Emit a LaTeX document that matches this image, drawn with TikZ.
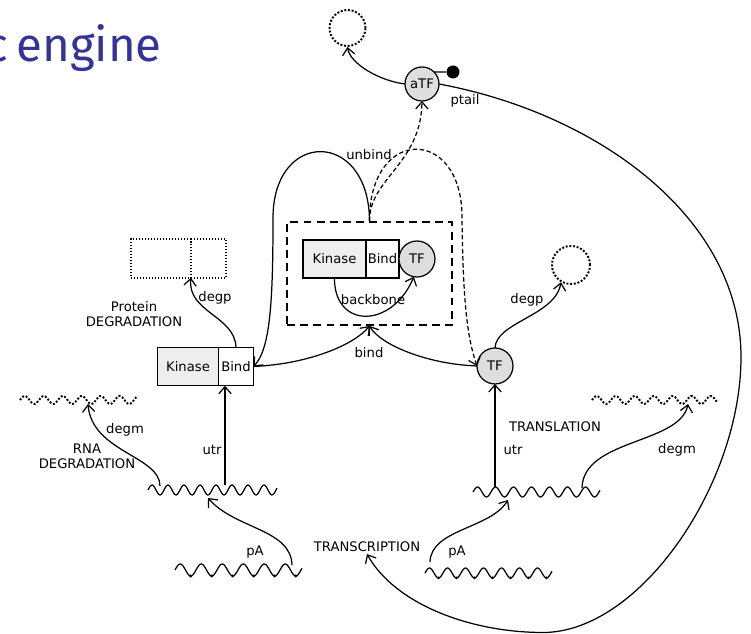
\documentclass[tikz,border=0pt]{standalone}
\usepackage{fontspec}
\setmainfont{DejaVu Sans}
\newfontfamily\titlefont{Fira Sans}
\usetikzlibrary{arrows.meta,positioning}
\definecolor{titleblue}{RGB}{51,51,153}
\definecolor{protgray}{RGB}{222,222,222}
\definecolor{kinfill}{RGB}{238,238,238}

\begin{document}
\begin{tikzpicture}[x=0.02cm, y=0.02cm,
  box/.style={draw, line width=0.7pt, minimum height=0.77cm, inner sep=0pt,
              outer sep=0pt, font=\fontsize{7.5}{8.8}\selectfont},
  kin/.style={box, fill=kinfill, minimum width=1.24cm},
  bnd/.style={box, fill=white, minimum width=0.68cm},
  prot/.style={circle, draw, line width=0.7pt, fill=protgray, minimum size=0.72cm,
               inner sep=0pt, outer sep=0pt, font=\fontsize{7.5}{8.8}\selectfont},
  gone/.style={draw, densely dotted, line width=1.1pt},
  flow/.style={-{Straight Barb[length=4pt,width=7pt]}, line width=0.7pt},
  dsh/.style={dash pattern=on 2.5pt off 1.5pt},
  lbl/.style={font=\fontsize{7.5}{8.8}\selectfont, inner sep=1pt, align=center},
  wave/.style={line width=0.7pt}
]
\useasboundingbox (0,0) rectangle (751,634);
\clip (0,0) rectangle (751,634);

%% Title (cut at the left edge)
\node[font=\titlefont\fontsize{27}{30}\selectfont, text=titleblue, anchor=base east]
  (title) at (168,572) {c\hspace{4.5pt}engine};

%% Active TF at the top
\node[prot, minimum size=0.68cm] (aTF) at (422,550) {aTF};
\node[circle, fill=black, minimum size=0.26cm, inner sep=0pt] (tail) at (453,562) {};
\node[circle, gone, minimum size=0.72cm] (deadA) at (347.5,606) {};
\node[lbl] (ptail) at (465,533) {ptail};

%% Complex (dashed box)
\node[draw, line width=1.1pt, dash pattern=on 4.5pt off 3pt,
      minimum width=3.3cm, minimum height=2.06cm] (cplx) at (369.5,360.5) {};
\node[kin, minimum width=1.26cm, minimum height=0.76cm] (cKin) at (334.5,375) {Kinase};
\node[bnd, minimum width=0.66cm, minimum height=0.76cm, right=0pt of cKin] (cBind) {Bind};
\node[prot, right=0pt of cBind] (cTF) {TF};
\node[lbl] (bb) at (373,334) {backbone};

%% Protein Kinase|Bind and its degradation
\node[kin, minimum width=1.22cm] (lKin) at (188,267.5) {Kinase};
\node[bnd, minimum width=0.7cm, right=0pt of lKin] (lBind) {Bind};
\node[box, gone, minimum width=1.2cm] (deadK) at (161,375.5) {};
\node[box, gone, minimum width=0.7cm, right=0pt of deadK] (deadB) {};
\node[lbl] (degpL) at (215,336) {degp};
\node[lbl] (protdeg) at (134,320) {Protein\\DEGRADATION};

%% TF and its degradation
\node[prot] (rTF) at (495,268) {TF};
\node[circle, gone, minimum size=0.76cm] (deadTF) at (571,369) {};
\node[lbl] (degpR) at (527,334) {degp};

%% Labels
\node[lbl] (unbind) at (369,479) {unbind};
\node[lbl] (bind) at (369,281) {bind};
\node[lbl] (degmL) at (125,204) {degm};
\node[lbl] (rnadeg) at (87,177.5) {RNA\\DEGRADATION};
\node[lbl] (utrL) at (212,184) {utr};
\node[lbl] (transl) at (555,207) {TRANSLATION};
\node[lbl] (utrR) at (513,184) {utr};
\node[lbl] (degmR) at (677,184) {degm};
\node[lbl] (pAL) at (255,82) {pA};
\node[lbl] (pAR) at (457,82) {pA};
\node[lbl] (trans) at (367,87) {TRANSCRIPTION};

%% Waves: mRNA, degraded mRNA, genes
\draw[wave] plot[domain=148:277, samples=120] (\x, {144+5*sin((\x-148)/16*360)});
\draw[wave] plot[domain=473:600, samples=120] (\x, {142+5*sin((\x-473)/18*360)});
\draw[gone] plot[domain=20:137, samples=80] (\x, {234+4*sin((\x-20)/19*360)});
\draw[gone] plot[domain=592:718, samples=80] (\x, {234+4*sin((\x-592)/19*360)});
\draw[wave] plot[domain=175:302, samples=120] (\x, {64+6*sin((\x-175)/21*360)});
\draw[wave] plot[domain=425:552, samples=120] (\x, {61+5*sin((\x-425)/18*360)});
\foreach \k in {0,...,5} \fill (175+21*\k+15.75,58) circle (1.7);
\foreach \k in {0,...,6} \fill (425+18*\k+13.5,56) circle (1.5);

%% Attach points on the waves
\coordinate (mLu) at (225,149);
\coordinate (mLd) at (160,148);
\coordinate (mLp) at (208,136);
\coordinate (mRu) at (495,147);
\coordinate (mRd) at (582,146);
\coordinate (mRp) at (508,134);
\coordinate (degL) at (88,230);
\coordinate (degR) at (688,230);
\coordinate (dnaL) at (292,69);
\coordinate (dnaR) at (430,72);
\coordinate (ubL) at (273,416);
\coordinate (ubR) at (462,417);
\coordinate (fbR) at (741,277);
\coordinate (fbB) at (543,1.5);

%% aTF degradation and tail
\draw[flow] (aTF.west) .. controls (380,553) and (350,570) .. (deadA.south);
\draw[line width=0.7pt] (aTF.45) -- (tail);

%% ptail feedback to transcription
\draw[flow] (aTF.east) .. controls (600,520) and (741,415) .. (fbR)
  .. controls (741,150) and (640,1.5) .. (fbB)
  .. controls (470,1.5) and (395,30) .. (trans.south);

%% unbind
\draw[flow] (cplx.north) .. controls (369,505) and (273,505) .. (ubL)
  .. controls (273,330) and (270,285) .. (lBind.east);
\draw[flow, dsh] (cplx.north) .. controls (369,508) and (462,508) .. (ubR)
  .. controls (463,340) and (466,300) .. (rTF.west);
\draw[flow, dsh] (cplx.north) .. controls (369,455) and (421,470) .. (aTF.south);

%% bind
\draw[flow] (lBind.east) .. controls (310,270) and (355,290) .. (cplx.south);
\draw[flow] (rTF.west) .. controls (425,270) and (380,290) .. (cplx.south);

%% backbone
\draw[flow] (cKin.south) .. controls (334,305) and (392,305) .. (cTF.260);

%% Protein degradation
\draw[flow] (lBind.north) .. controls (235,318) and (187,322) .. (deadK.south east);
\draw[flow] (rTF.north) .. controls (496,312) and (555,318) .. (deadTF.240);

%% Translation
\draw[flow] (mLu) -- (mLu |- lBind.south);
\draw[flow] (mRu) -- (rTF.south);

%% RNA degradation
\draw[flow] (mLd) .. controls (160,178) and (92,182) .. (degL);
\draw[flow] (mRd) .. controls (583,195) and (680,190) .. (degR);

%% Transcription (pA)
\draw[flow] (dnaL) .. controls (291,105) and (235,105) .. (mLp);
\draw[flow] (dnaR) .. controls (431,105) and (490,105) .. (mRp);
\end{tikzpicture}
\end{document}
